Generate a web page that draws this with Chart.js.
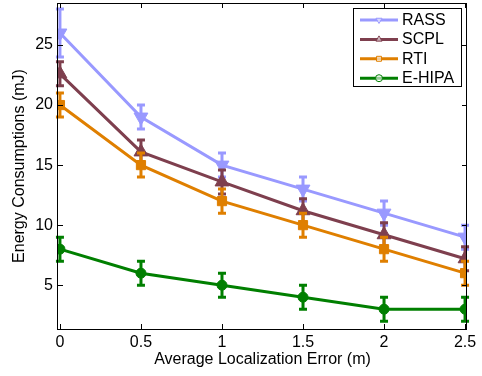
<!DOCTYPE html>
<html>
<head>
<meta charset="utf-8">
<script src="https://cdn.jsdelivr.net/npm/chart.js@4.4.1/dist/chart.umd.min.js"></script>
<style>
  html, body { margin: 0; padding: 0; background: #fff; }
  #chart { display: block; }
</style>
</head>
<body>
<canvas id="chart" width="482" height="376"></canvas>
<script>
// ===============================
// DATA
// ===============================
const errorLevels = [0, 0.5, 1, 1.5, 2, 2.5];
const xTickValues = [0, 0.5, 1, 1.5, 2, 2.5];
const yTickValues = [5, 10, 15, 20, 25];

const rass = [26, 19, 15, 13, 11, 9];
const rassErr = [2, 1, 1, 1, 1, 1];
const scpl = [22.6, 16.1, 13.6, 11.2, 9.2, 7.2];
const scplErr = [1, 1, 1, 1, 1, 1];
const rti = [20, 15, 12, 10, 8, 6];
const rtiErr = [1, 1, 1, 1, 1, 1];
const ehipa = [8, 6, 5, 4, 3, 3];
const ehipaErr = [1, 1, 1, 1, 1, 1];

const FONT = "'Liberation Sans', Arial, Helvetica, sans-serif";

function points(values) {
    return errorLevels.map((x, i) => ({ x, y: values[i] }));
}

function series(label, values, errors, color, pointStyle, radius, rotation, order) {
    return {
        label,
        data: points(values),
        errors,
        borderColor: color,
        backgroundColor: color,
        pointBackgroundColor: color,
        pointBorderColor: color,
        pointStyle,
        pointRadius: radius,
        pointBorderWidth: 1,
        pointRotation: rotation,
        borderWidth: 3,
        tension: 0,
        order
    };
}

function noPadding(s) {
    s.paddingTop = 0;
    s.paddingBottom = 0;
    s.paddingLeft = 0;
    s.paddingRight = 0;
}

// ===============================
// ERROR BARS (under each series)
// ===============================
const errorBars = {
    id: "errorBars",
    beforeDatasetDraw(chart, args) {
        const ds = chart.data.datasets[args.index];
        if (!ds.errors) return;
        const { ctx, scales: { x, y } } = chart;
        ctx.save();
        ctx.strokeStyle = ds.borderColor;
        ctx.lineWidth = 3;
        ds.data.forEach((p, i) => {
            const px = x.getPixelForValue(p.x);
            const top = y.getPixelForValue(p.y + ds.errors[i]);
            const bot = y.getPixelForValue(p.y - ds.errors[i]);
            ctx.beginPath();
            ctx.moveTo(px, top);
            ctx.lineTo(px, bot);
            ctx.moveTo(px - 4, top);
            ctx.lineTo(px + 4, top);
            ctx.moveTo(px - 4, bot);
            ctx.lineTo(px + 4, bot);
            ctx.stroke();
        });
        ctx.restore();
    }
};

// ===============================
// BOX + INWARD TICKS + LEGEND
// ===============================
const frame = {
    id: "frame",
    afterDraw(chart) {
        const { ctx, chartArea: a, scales: { x, y } } = chart;
        ctx.save();
        ctx.strokeStyle = "#000";
        ctx.lineWidth = 1;
        ctx.strokeRect(a.left - 0.5, a.top + 0.5, a.right - a.left, a.bottom - a.top);
        ctx.beginPath();
        xTickValues.forEach(v => {
            const px = Math.round(x.getPixelForValue(v)) + 0.5;
            ctx.moveTo(px, a.bottom); ctx.lineTo(px, a.bottom - 5);
            ctx.moveTo(px, a.top); ctx.lineTo(px, a.top + 5);
        });
        yTickValues.forEach(v => {
            const py = Math.round(y.getPixelForValue(v)) + 0.5;
            ctx.moveTo(a.left, py); ctx.lineTo(a.left + 5, py);
            ctx.moveTo(a.right, py); ctx.lineTo(a.right - 5, py);
        });
        ctx.stroke();

        // legend
        const lx = 353.5, ly = 8.5, lw = 108, lh = 78;
        ctx.fillStyle = "#fff";
        ctx.fillRect(lx, ly, lw, lh);
        ctx.strokeRect(lx, ly, lw, lh);
        ctx.font = "16px " + FONT;
        ctx.textBaseline = "middle";
        ctx.textAlign = "left";
        chart.data.datasets.forEach((ds, i) => {
            const cy = 20 + i * 19.4;
            ctx.strokeStyle = ds.borderColor;
            ctx.lineWidth = 3;
            ctx.beginPath();
            ctx.moveTo(360, cy);
            ctx.lineTo(398, cy);
            ctx.stroke();
            ctx.lineWidth = 1;
            ctx.fillStyle = "rgba(255,255,255,0.6)";
            Chart.helpers.drawPoint(ctx, {
                pointStyle: ds.pointStyle,
                radius: 3.5,
                rotation: ds.pointRotation,
                borderWidth: 1
            }, 379, cy);
            ctx.fillStyle = "#000";
            ctx.fillText(ds.label, 402, cy + 0.5);
        });
        ctx.restore();
    }
};

new Chart(document.getElementById("chart"), {
    type: "line",
    data: {
        datasets: [
            series("RASS", rass, rassErr, "#9999FF", "triangle", 8, 180, 3),
            series("SCPL", scpl, scplErr, "#7E3F4E", "triangle", 8, 0, 2),
            series("RTI", rti, rtiErr, "#DF7F00", "rect", 6.5, 0, 1),
            series("E-HIPA", ehipa, ehipaErr, "#007F00", "circle", 5, 0, 0)
        ]
    },
    options: {
        responsive: false,
        animation: false,
        layout: { autoPadding: false, padding: { top: 3, right: 15, left: 0, bottom: 0 } },
        plugins: { legend: { display: false }, tooltip: { enabled: false } },
        scales: {
            x: {
                type: "linear",
                min: -0.012,
                max: 2.512,
                grid: { display: false, drawTicks: false },
                border: { display: false },
                afterBuildTicks: s => { s.ticks = xTickValues.map(v => ({ value: v })); },
                afterFit: s => { s.height = 47; noPadding(s); },
                ticks: {
                    autoSkip: false,
                    maxRotation: 0,
                    padding: 4,
                    color: "#000",
                    font: { family: FONT, size: 16 },
                    callback: v => String(v)
                },
                title: {
                    display: true,
                    text: "Average Localization Error (m)",
                    color: "#000",
                    font: { family: FONT, size: 16 },
                    padding: { top: 0, bottom: 7 }
                }
            },
            y: {
                min: 1.35,
                max: 28.5,
                grid: { display: false, drawTicks: false },
                border: { display: false },
                afterBuildTicks: s => { s.ticks = yTickValues.map(v => ({ value: v })); },
                afterFit: s => { s.width = 58; noPadding(s); },
                ticks: {
                    padding: 5,
                    color: "#000",
                    font: { family: FONT, size: 16 },
                    callback: v => String(v)
                },
                title: {
                    display: true,
                    text: "Energy Consumptions (mJ)",
                    color: "#000",
                    font: { family: FONT, size: 16 },
                    padding: { top: 10, bottom: 0 }
                }
            }
        }
    },
    plugins: [errorBars, frame]
});
</script>
</body>
</html>
